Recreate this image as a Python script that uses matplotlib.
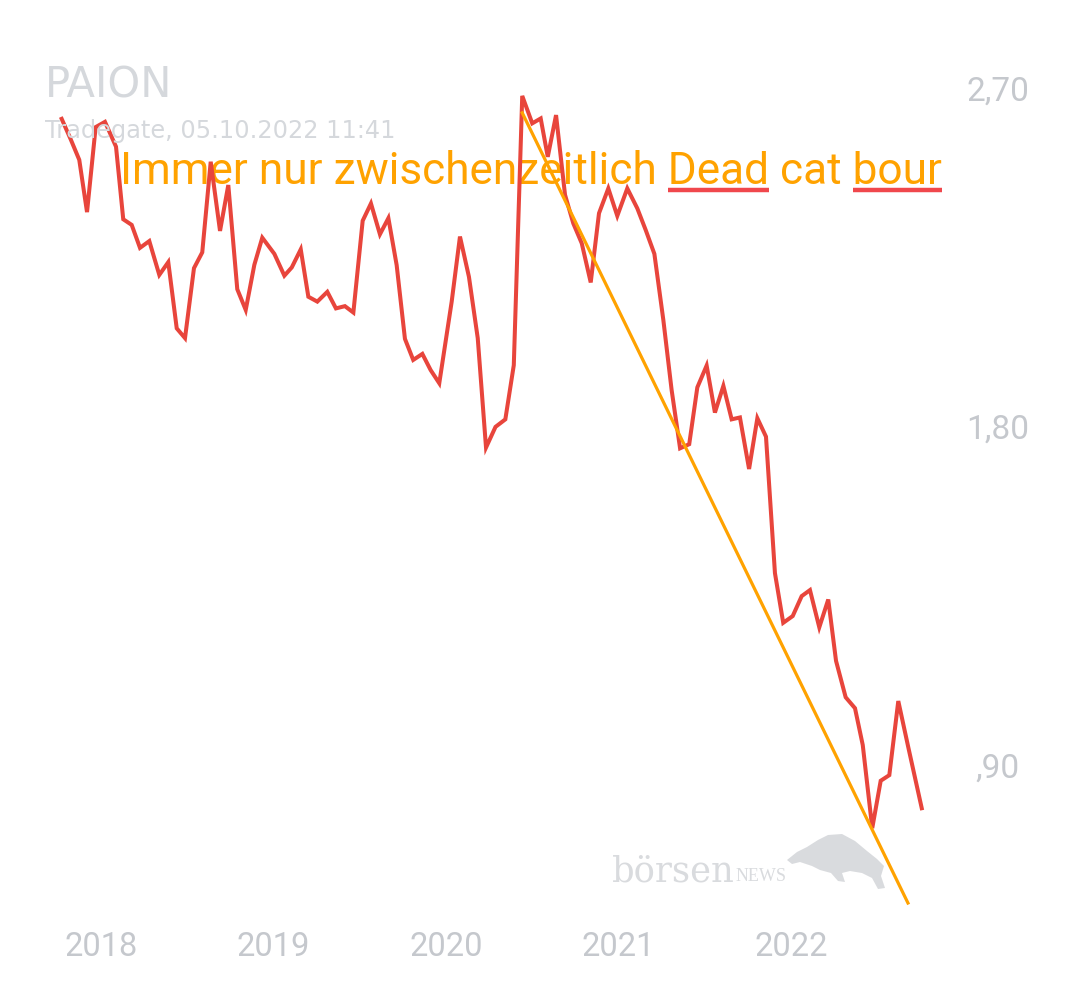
import numpy as np
import matplotlib.pyplot as plt
from matplotlib.patches import Polygon

# price series (decimal year, EUR)
t = [2017.772, 2017.824, 2017.874, 2017.919, 2017.969, 2018.023, 2018.087, 2018.129,
     2018.178, 2018.226, 2018.280, 2018.338, 2018.390, 2018.439, 2018.487, 2018.539,
     2018.587, 2018.636, 2018.690, 2018.738, 2018.790, 2018.839, 2018.889, 2018.935,
     2019.005, 2019.063, 2019.106, 2019.158, 2019.202, 2019.254, 2019.312, 2019.362,
     2019.414, 2019.463, 2019.517, 2019.565, 2019.617, 2019.666, 2019.714, 2019.762,
     2019.810, 2019.863, 2019.911, 2019.961, 2020.033, 2020.081, 2020.133, 2020.184,
     2020.232, 2020.287, 2020.344, 2020.393, 2020.442, 2020.500, 2020.549, 2020.590,
     2020.638, 2020.690, 2020.738, 2020.787, 2020.839, 2020.887, 2020.941, 2020.993,
     2021.051, 2021.109, 2021.158, 2021.208, 2021.260, 2021.308, 2021.357, 2021.410,
     2021.457, 2021.511, 2021.559, 2021.608, 2021.656, 2021.704, 2021.757, 2021.805,
     2021.855, 2021.907, 2021.955, 2022.010, 2022.062, 2022.110, 2022.164, 2022.216,
     2022.261, 2022.317, 2022.371, 2022.416, 2022.471, 2022.520, 2022.570, 2022.622,
     2022.680, 2022.758]
price = [2.618, 2.564, 2.509, 2.370, 2.596, 2.610, 2.544, 2.351,
         2.336, 2.275, 2.293, 2.203, 2.237, 2.061, 2.035, 2.221,
         2.263, 2.504, 2.320, 2.442, 2.165, 2.110, 2.230, 2.302,
         2.259, 2.201, 2.223, 2.271, 2.145, 2.132, 2.158, 2.114,
         2.120, 2.103, 2.347, 2.393, 2.311, 2.354, 2.229, 2.033,
         1.977, 1.993, 1.950, 1.915, 2.132, 2.305, 2.198, 2.035,
         1.744, 1.799, 1.819, 1.963, 2.679, 2.606, 2.619, 2.517,
         2.628, 2.416, 2.340, 2.287, 2.183, 2.367, 2.433, 2.360,
         2.433, 2.380, 2.322, 2.259, 2.083, 1.897, 1.742, 1.753,
         1.904, 1.962, 1.837, 1.908, 1.819, 1.824, 1.687, 1.822,
         1.773, 1.410, 1.278, 1.296, 1.349, 1.365, 1.266, 1.340,
         1.177, 1.080, 1.051, 0.953, 0.732, 0.858, 0.873, 1.070,
         0.947, 0.785]

# hand drawn trend line
trend_t = [2020.442, 2022.678]
trend_p = [2.634, 0.533]

year_ticks = [2018, 2019, 2020, 2021, 2022]
price_ticks = [0.9, 1.8, 2.7]
price_labels = [',90', '1,80', '2,70']

title = 'PAION'
subtitle = 'Tradegate, 05.10.2022 11:41'
note = 'Immer nur zwischenzeitlich Dead cat bour'
underlined = ['Dead', 'bour']

W, H = 1080, 990
fig = plt.figure(figsize=(W / 100, H / 100), dpi=100)
ax = fig.add_axes([0, 0, 1, 1])
ax.set_xlim(2017.4145, 2023.6754)
ax.set_ylim(0.3017, 2.934)
ax.axis('off')

grey = '#c5c8cd'
red = '#e8453c'
orange = '#ffa200'

ax.plot(t, price, color=red, lw=2.9, zorder=3, solid_joinstyle='miter')
ax.plot(trend_t, trend_p, color=orange, lw=2.3, zorder=4)

for yr in year_ticks:
    ax.text(yr, 1 - 947 / H, str(yr), transform=ax.get_xaxis_transform(),
            ha='center', va='center', fontsize=23.5, color=grey, family='Roboto')
for v, lab in zip(price_ticks, price_labels):
    ax.text(998 / W, v, lab, transform=ax.get_yaxis_transform(),
            ha='center', va='center_baseline', fontsize=24, color=grey, family='Roboto')

fig.text(45 / W, 1 - 98 / H, title, fontsize=30, color='#d5d8dc',
         family='DejaVu Sans', va='baseline', zorder=1)
fig.text(45 / W, 1 - 138 / H, subtitle, fontsize=17.3, color='#d5d8dc',
         family='DejaVu Sans', va='baseline', zorder=1)

# orange annotation with red underlines
fs = 31.8
nx, ny = 120 / W, 1 - 184 / H
txt = ax.text(nx, ny, note, transform=fig.transFigure, fontsize=fs,
              color=orange, family='Roboto', va='baseline', zorder=2)
r = fig.canvas.get_renderer()
for word in underlined:
    i = note.index(word) + len(word)
    tmp = ax.text(nx, ny, note[:i], transform=fig.transFigure, fontsize=fs,
                  family='Roboto', va='baseline')
    tw = ax.text(nx, ny, word, transform=fig.transFigure, fontsize=fs,
                 family='Roboto', va='baseline')
    e1 = tmp.get_window_extent(r).x1
    w = tw.get_window_extent(r).width
    tmp.remove()
    tw.remove()
    uy = 1 - 190 / H
    fig.add_artist(plt.Line2D([(e1 - w) / W, e1 / W], [uy, uy], color='#f0474c',
                              lw=3.2, solid_capstyle='butt', zorder=2))

# watermark
fig.text(612 / W, 1 - 881 / H, 'börsen', fontsize=25.5, color='#d9dbde',
         family='DejaVu Serif', va='baseline', zorder=1)
fig.text(736 / W, 1 - 881 / H, 'NEWS', fontsize=13, color='#d9dbde',
         family='Liberation Serif', va='baseline', zorder=1)
bull = [(787, 860), (797, 852), (807, 847), (818, 840), (828, 835), (842, 834),
        (855, 841), (867, 851), (877, 859), (884, 866), (881, 876), (885, 888),
        (878, 889), (872, 878), (862, 873), (850, 871), (842, 873), (845, 882),
        (838, 881), (831, 873), (820, 870), (812, 866), (800, 862), (792, 864)]
fig.add_artist(Polygon([(x / W, 1 - y / H) for x, y in bull], closed=True,
                       facecolor='#d9dbde', edgecolor='none', zorder=1))

fig.savefig('out.png', dpi=100, facecolor='white')
